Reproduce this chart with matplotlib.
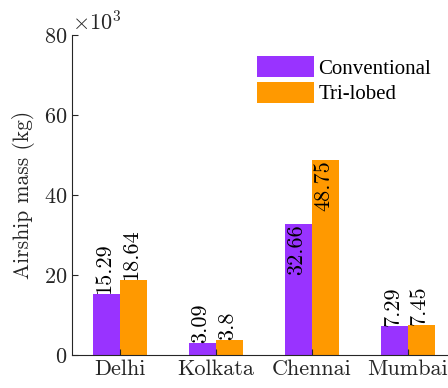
import matplotlib
matplotlib.use("Agg")
import matplotlib.pyplot as plt
from matplotlib import font_manager
import numpy as np

# Airship mass per city, in thousands of kg
cities = ["Delhi", "Kolkata", "Chennai", "Mumbai"]
conventional = [15.29, 3.09, 32.66, 7.29]
trilobed = [18.64, 3.8, 48.75, 7.45]
series_names = ["Conventional", "Tri-lobed"]
scale = 1000

plt.rcParams["font.family"] = "cmr10"
plt.rcParams["mathtext.fontset"] = "cm"
plt.rcParams["axes.formatter.use_mathtext"] = True


def pick_serif(names):
    for n in names:
        try:
            path = font_manager.findfont(font_manager.FontProperties(family=n),
                                         fallback_to_default=False)
            return font_manager.FontProperties(fname=path)
        except Exception:
            continue
    return font_manager.FontProperties(family="DejaVu Serif")


legend_font = pick_serif(["Liberation Serif", "Times New Roman", "Nimbus Roman",
                          "DejaVu Serif"])
legend_font.set_size(15)

purple = "#9933FF"
orange = "#FF9900"
axis_col = "#262626"

fig = plt.figure(figsize=(4.48, 3.88), dpi=100)
ax = fig.add_axes([72 / 448, 33 / 388, 384 / 448, 320 / 388])

x = np.arange(1, len(cities) + 1)
w = 0.28
conv_kg = np.array(conventional) * scale
tri_kg = np.array(trilobed) * scale
b1 = ax.bar(x - w / 2, conv_kg, w, color=purple, label=series_names[0])
b2 = ax.bar(x + w / 2, tri_kg, w, color=orange, label=series_names[1])

# Value labels: above the bar for short bars, inside the top for tall ones
for bars, vals in ((b1, conventional), (b2, trilobed)):
    for rect, v in zip(bars, vals):
        cx = rect.get_x() + rect.get_width() / 2
        va = "top" if v > 30 else "bottom"
        ax.annotate(f"{v:g}", xy=(cx, v * scale), xytext=(-1.5, 0),
                    textcoords="offset points", rotation=90, ha="center",
                    va=va, fontsize=16, color="black")

ax.set_xlim(0.5, 4.5)
ax.set_ylim(0, 80000)
ax.set_yticks([0, 20000, 40000, 60000, 80000])
ax.ticklabel_format(axis="y", style="sci", scilimits=(3, 3))
ax.yaxis.get_offset_text().set_fontsize(16)
ax.yaxis.get_offset_text().set_color(axis_col)
ax.set_xticks(x)
ax.set_xticklabels(cities)
ax.set_ylabel("Airship mass (kg)", fontsize=15.5, color=axis_col, labelpad=6)

for s in ("top", "right"):
    ax.spines[s].set_visible(False)
for s in ("left", "bottom"):
    ax.spines[s].set_color(axis_col)
    ax.spines[s].set_linewidth(0.8)
ax.tick_params(direction="in", length=4, width=0.8, color=axis_col,
               labelsize=16, labelcolor=axis_col)

ax.legend(loc="upper left", bbox_to_anchor=((257 - 72) / 384, 1 - 21 / 320),
          frameon=False, borderpad=0, borderaxespad=0, prop=legend_font,
          handlelength=2.74, handleheight=1.2,
          handletextpad=0.2, labelspacing=0.14)

fig.savefig("out.png", dpi=100)
